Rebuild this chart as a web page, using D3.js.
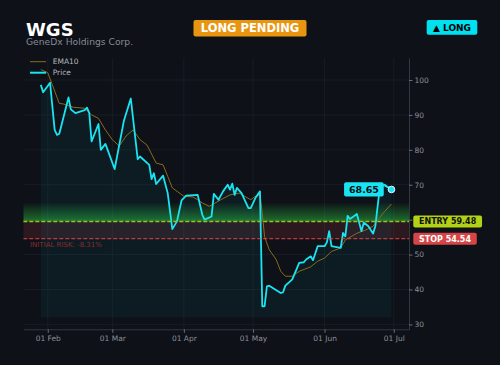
<!DOCTYPE html>
<html>
<head>
<meta charset="utf-8">
<script src="https://cdn.jsdelivr.net/npm/d3@7"></script>
<style>
  body { margin: 0; background: #0e1117; }
  svg { display: block; font-family: "DejaVu Sans", sans-serif; }
</style>
</head>
<body>
<script>
// values
var priceDates = ['2025-01-29','2025-01-30','2025-02-02','2025-02-04','2025-02-05','2025-02-06','2025-02-10','2025-02-11',
  '2025-02-13','2025-02-17','2025-02-18','2025-02-19','2025-02-20','2025-02-23','2025-02-24','2025-02-26','2025-03-02',
  '2025-03-06','2025-03-09','2025-03-12','2025-03-13','2025-03-17','2025-03-18','2025-03-19','2025-03-20','2025-03-23',
  '2025-03-25','2025-03-27','2025-03-29','2025-03-31','2025-04-02','2025-04-07','2025-04-09','2025-04-10','2025-04-13',
  '2025-04-14','2025-04-16','2025-04-18','2025-04-20','2025-04-21','2025-04-22','2025-04-23','2025-04-24','2025-04-26',
  '2025-04-29','2025-04-30','2025-05-02','2025-05-04','2025-05-05','2025-05-06','2025-05-07','2025-05-08','2025-05-13',
  '2025-05-14','2025-05-15','2025-05-18','2025-05-21','2025-05-23','2025-05-24','2025-05-26','2025-05-27','2025-05-29',
  '2025-06-01','2025-06-02','2025-06-03','2025-06-04','2025-06-08','2025-06-09','2025-06-10','2025-06-11','2025-06-12',
  '2025-06-14','2025-06-15','2025-06-17','2025-06-18','2025-06-20','2025-06-22','2025-06-23','2025-06-25','2025-06-27',
  '2025-06-30'];
var priceValues = [98.6,96.5,99.2,85.7,84.3,84.6,95.0,91.6,
  90.5,91.4,92.1,90.5,82.4,87.4,80.0,81.7,74.5,
  88.3,94.7,77.3,78.1,75.7,71.6,73.3,70.2,72.6,
  67.6,57.3,59.5,65.5,66.9,67.1,61.4,60.0,60.9,
  67.4,65.7,68.1,70.0,68.6,70.3,67.1,69.1,67.6,
  63.3,63.3,66.2,68.1,35.2,35.2,40.9,41.1,39.0,
  39.2,41.1,42.9,47.6,47.8,48.6,49.5,48.4,52.4,
  52.4,53.5,56.7,52.4,51.9,56.2,55.2,61.1,60.2,
  61.1,61.6,56.7,59.2,58.1,56.0,58.1,69.5,70.0,
  68.65];

var emaDates = ['2025-01-29','2025-02-01','2025-02-03','2025-02-06','2025-02-08','2025-02-12','2025-02-17','2025-02-20',
  '2025-02-23','2025-02-26','2025-03-01','2025-03-04','2025-03-07','2025-03-10','2025-03-13','2025-03-16','2025-03-20',
  '2025-03-23','2025-03-25','2025-03-27','2025-04-01','2025-04-05','2025-04-09','2025-04-12','2025-04-17','2025-04-21',
  '2025-04-25','2025-04-30','2025-05-02','2025-05-04','2025-05-05','2025-05-06','2025-05-08','2025-05-11','2025-05-13',
  '2025-05-15','2025-05-18','2025-05-21','2025-05-26','2025-05-29','2025-06-01','2025-06-04','2025-06-08','2025-06-10',
  '2025-06-15','2025-06-19','2025-06-22','2025-06-24','2025-06-27','2025-06-30'];
var emaValues = [103.0,102.1,98.6,93.3,93.1,92.2,91.9,90.0,
  89.0,85.7,82.9,81.1,84.0,85.7,82.9,81.4,76.2,
  75.7,72.4,69.1,66.7,66.5,64.8,63.8,65.7,67.1,
  67.6,65.7,66.7,67.1,61.8,55.1,51.4,48.6,45.2,
  43.8,43.8,45.2,46.5,48.1,49.0,50.9,51.9,54.2,
  56.1,57.1,58.1,59.9,62.3,64.5];

var yTicks = [30, 40, 50, 60, 70, 80, 90, 100];
var xTicks = ['2025-02-01','2025-03-01','2025-04-01','2025-05-01','2025-06-01','2025-07-01'];
var entryPrice = 59.48;
var stopPrice = 54.54;
var targetTop = 64.8;
var fillBase = 32.0;
var yRange = [28.6, 106.3];

var w = 500, h = 365;
var plotLeft = 23.3, plotRight = 409, plotTop = 58, plotBottom = 329.3;

var svg = d3.select('body')
            .append('svg')
            .attr('width', w)
            .attr('height', h);

svg.append('rect')
   .attr('width', w)
   .attr('height', h)
   .attr('fill', '#0e1117');

var parse = d3.timeParse('%Y-%m-%d');
var price = priceDates.map(function(d, i) { return {date: parse(d), value: priceValues[i]}; });
var ema = emaDates.map(function(d, i) { return {date: parse(d), value: emaValues[i]}; });

var ext = d3.extent(price, function(d) { return d.date; });
var pad = (ext[1] - ext[0]) * 0.05;

var x = d3.scaleTime()
          .domain([new Date(+ext[0] - pad), new Date(+ext[1] + pad)])
          .range([plotLeft, plotRight]);
var y = d3.scaleLinear()
          .domain(yRange)
          .range([plotBottom, plotTop]);

var defs = svg.append('defs');
defs.append('clipPath')
    .attr('id', 'plot')
    .append('rect')
    .attr('x', plotLeft).attr('y', plotTop)
    .attr('width', plotRight - plotLeft).attr('height', plotBottom - plotTop);

var grad = defs.append('linearGradient')
               .attr('id', 'greenGrad')
               .attr('x1', 0).attr('y1', 0).attr('x2', 0).attr('y2', 1);
grad.append('stop').attr('offset', '0%').attr('stop-color', '#2ecc40').attr('stop-opacity', 0.02);
grad.append('stop').attr('offset', '100%').attr('stop-color', '#2ecc40').attr('stop-opacity', 0.5);

// grid
var grid = svg.append('g');
grid.selectAll('line.gy')
    .data(yTicks)
    .enter()
    .append('line')
    .attr('x1', plotLeft).attr('x2', plotRight)
    .attr('y1', function(d) { return y(d); })
    .attr('y2', function(d) { return y(d); })
    .attr('stroke', '#1b2029')
    .attr('stroke-width', 0.8);
grid.selectAll('line.gx')
    .data(xTicks.map(parse))
    .enter()
    .append('line')
    .attr('y1', plotTop).attr('y2', plotBottom)
    .attr('x1', function(d) { return x(d); })
    .attr('x2', function(d) { return x(d); })
    .attr('stroke', '#1b2029')
    .attr('stroke-width', 0.8);

var plot = svg.append('g').attr('clip-path', 'url(#plot)');

// target zone and risk zone
plot.append('rect')
    .attr('x', plotLeft).attr('width', plotRight - plotLeft)
    .attr('y', y(targetTop))
    .attr('height', y(entryPrice) - y(targetTop))
    .attr('fill', 'url(#greenGrad)');
plot.append('rect')
    .attr('x', plotLeft).attr('width', plotRight - plotLeft)
    .attr('y', y(entryPrice))
    .attr('height', y(stopPrice) - y(entryPrice))
    .attr('fill', '#ff5a5a')
    .attr('opacity', 0.12);

var area = d3.area()
             .x(function(d) { return x(d.date); })
             .y0(y(fillBase))
             .y1(function(d) { return y(d.value); });
plot.append('path')
    .datum(price)
    .attr('d', area)
    .attr('fill', '#00e5ff')
    .attr('opacity', 0.05);

var line = d3.line()
             .x(function(d) { return x(d.date); })
             .y(function(d) { return y(d.value); });

plot.append('path')
    .datum(ema)
    .attr('d', line)
    .attr('fill', 'none')
    .attr('stroke', '#8a6a1e')
    .attr('stroke-width', 1);

plot.append('path')
    .datum(price)
    .attr('d', line)
    .attr('fill', 'none')
    .attr('stroke', '#18e4f2')
    .attr('stroke-width', 1.8)
    .attr('stroke-linejoin', 'round');

plot.append('line')
    .attr('x1', plotLeft).attr('x2', plotRight)
    .attr('y1', y(entryPrice)).attr('y2', y(entryPrice))
    .attr('stroke', '#9cc21a')
    .attr('stroke-width', 1.4)
    .attr('stroke-dasharray', '4,2');
plot.append('line')
    .attr('x1', plotLeft).attr('x2', plotRight)
    .attr('y1', y(stopPrice)).attr('y2', y(stopPrice))
    .attr('stroke', '#e04848')
    .attr('stroke-width', 1)
    .attr('stroke-dasharray', '4,2');

var risk = (stopPrice - entryPrice) / entryPrice * 100;
svg.append('text')
   .attr('x', 30)
   .attr('y', y(stopPrice) + 8.7)
   .attr('fill', '#8a2c30')
   .attr('font-size', '7px')
   .text('INITIAL RISK: ' + risk.toFixed(2) + '%');

// axes
var yAxis = d3.axisRight(y).tickValues(yTicks).tickSize(3.5).tickSizeOuter(0).tickPadding(2);
var xAxis = d3.axisBottom(x).tickValues(xTicks.map(parse)).tickSize(3.5).tickSizeOuter(0).tickPadding(3)
              .tickFormat(d3.timeFormat('%d %b'));

var ya = svg.append('g').attr('transform', 'translate(' + plotRight + ',0)').call(yAxis);
var xa = svg.append('g').attr('transform', 'translate(0,' + plotBottom + ')').call(xAxis);
[ya, xa].forEach(function(a) {
    a.select('.domain').attr('stroke', '#33383f');
    a.selectAll('.tick line').attr('stroke', '#6a6f78');
    a.selectAll('.tick text')
     .attr('fill', '#8c9099')
     .attr('font-size', '7.5px')
     .attr('font-family', '"DejaVu Sans", sans-serif');
});
// the 60 label sits under the ENTRY tag
ya.selectAll('.tick')
  .filter(function(d) { return d === 60; })
  .select('text')
  .remove();

// legend
var legend = svg.append('g');
legend.append('line').attr('x1', 30).attr('x2', 46).attr('y1', 61.7).attr('y2', 61.7)
      .attr('stroke', '#8a6a1e').attr('stroke-width', 1);
legend.append('text').attr('x', 52.7).attr('y', 64.4).attr('fill', '#b4b8bf').attr('font-size', '7.5px').text('EMA10');
legend.append('line').attr('x1', 30).attr('x2', 46).attr('y1', 72.7).attr('y2', 72.7)
      .attr('stroke', '#18e4f2').attr('stroke-width', 2);
legend.append('text').attr('x', 52.7).attr('y', 75.4).attr('fill', '#b4b8bf').attr('font-size', '7.5px').text('Price');

// last price marker
var last = price[price.length - 1];
var lx = x(last.date), ly = y(last.value);
svg.append('line')
   .attr('x1', lx - 8).attr('y1', ly - 4)
   .attr('x2', lx).attr('y2', ly)
   .attr('stroke', '#18e4f2').attr('stroke-width', 1);
svg.append('rect')
   .attr('x', lx - 47.4).attr('y', ly - 7.3)
   .attr('width', 39.7).attr('height', 14.3)
   .attr('rx', 2)
   .attr('fill', '#18e4f2');
svg.append('text')
   .attr('x', lx - 27.5).attr('y', ly + 3.3)
   .attr('text-anchor', 'middle')
   .attr('font-weight', 'bold')
   .attr('font-size', '9.5px')
   .attr('fill', '#0b0f14')
   .text(last.value.toFixed(2));
svg.append('circle')
   .attr('cx', lx).attr('cy', ly).attr('r', 3.3)
   .attr('fill', '#18e4f2')
   .attr('stroke', '#e6fbff').attr('stroke-width', 1);

// level tags on the right
function tag(value, label, bg, fg) {
    var g = svg.append('g');
    var r = g.append('rect');
    var t = g.append('text')
             .attr('x', 419).attr('y', y(value) + 2.9)
             .attr('font-weight', 'bold')
             .attr('font-size', '8px')
             .attr('fill', fg)
             .text(label + ' ' + value.toFixed(2));
    var len = t.node().getComputedTextLength();
    r.attr('x', 413.3).attr('y', y(value) - 6)
     .attr('width', len + 11.5).attr('height', 12)
     .attr('rx', 2)
     .attr('fill', bg);
}
tag(entryPrice, 'ENTRY', '#b3d215', '#111111');
tag(stopPrice, 'STOP', '#d64545', '#ffffff');

// header
svg.append('text').attr('x', 26).attr('y', 35.6)
   .attr('fill', '#ffffff').attr('font-weight', 'bold').attr('font-size', '18px').text('WGS');
svg.append('text').attr('x', 26).attr('y', 45)
   .attr('fill', '#868b94').attr('font-size', '9.2px').text('GeneDx Holdings Corp.');

function badge(cx, cy, label, bg, fg, size, wd, ht) {
    svg.append('rect')
       .attr('x', cx - wd / 2).attr('y', cy - ht / 2)
       .attr('width', wd).attr('height', ht)
       .attr('rx', 2)
       .attr('fill', bg);
    svg.append('text')
       .attr('x', cx).attr('y', cy + size * 0.36)
       .attr('text-anchor', 'middle')
       .attr('font-weight', 'bold')
       .attr('font-size', size + 'px')
       .attr('fill', fg)
       .text(label);
}
badge(250, 28.3, 'LONG PENDING', '#e8950f', '#ffffff', 11.5, 113, 16.5);
badge(452, 27.3, '\u25B2 LONG', '#00e1f0', '#000000', 9, 50.6, 14.7);
</script>
</body>
</html>
